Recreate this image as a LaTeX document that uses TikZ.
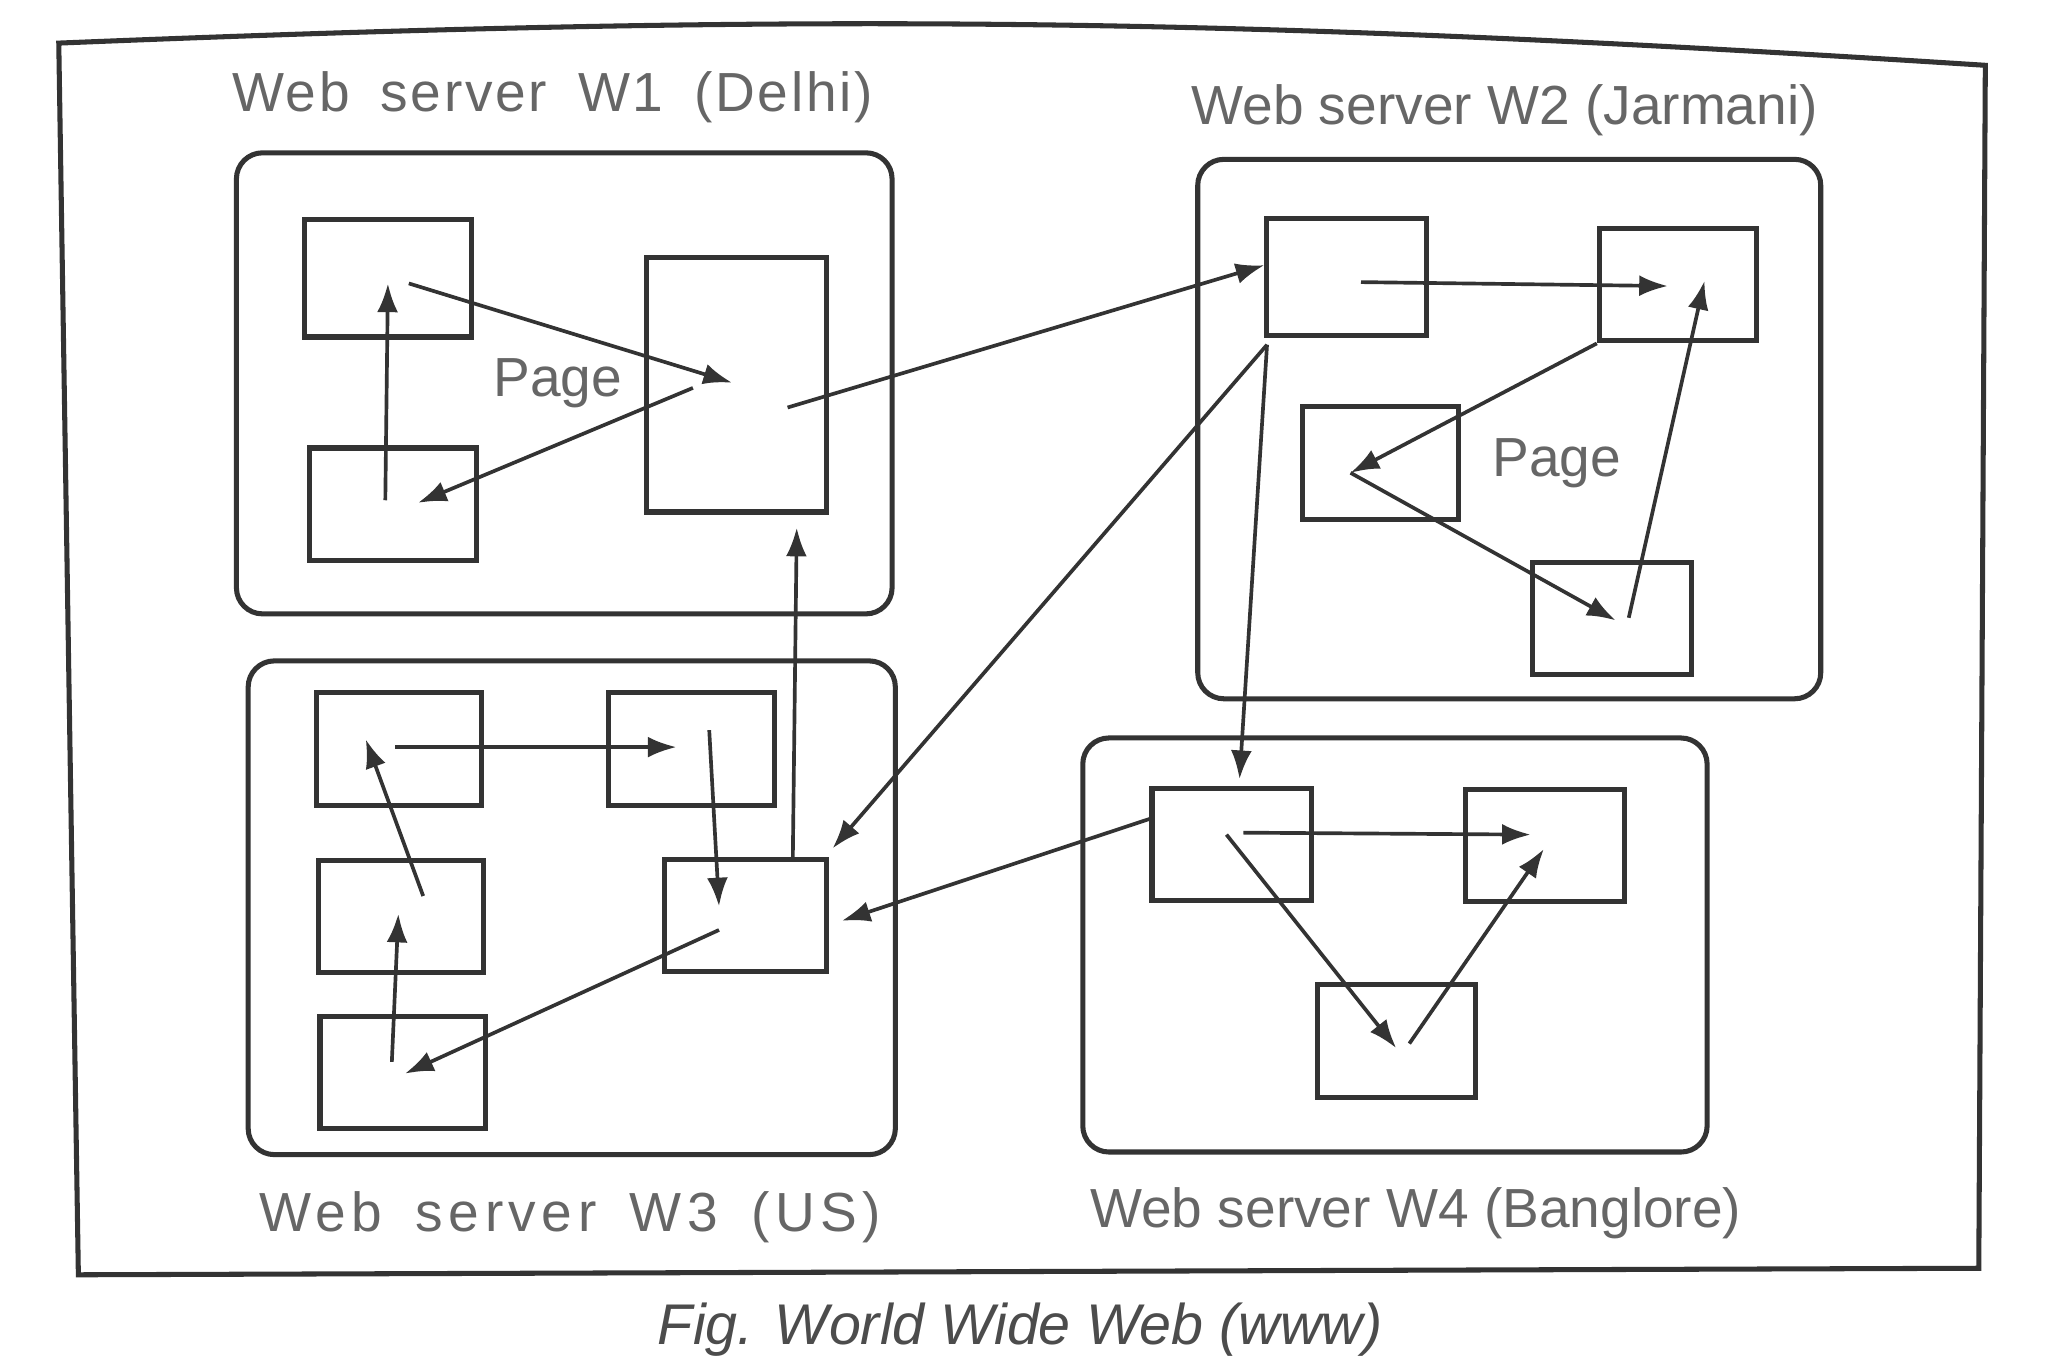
\documentclass[tikz,border=0pt]{standalone}
\usepackage{fontspec}
\setmainfont{Liberation Sans}
\newfontfamily\spacedfont[WordSpace=1.7,LetterSpace=5]{Liberation Sans}
\newfontfamily\widefont[WordSpace=1.6,LetterSpace=10]{Liberation Sans}
\usepackage{tikz}
\usetikzlibrary{arrows.meta}

\begin{document}
\begin{tikzpicture}[
    server/.style={draw=black!80, line width=1.1pt, rounded corners=2mm, inner sep=0pt},
    doc/.style={draw=black!80, line width=1.1pt, inner sep=0pt,
      minimum width=1.24cm, minimum height=0.86cm},
    link/.style={-{Latex[length=2.2mm, width=1.6mm]}, draw=black!80, line width=0.8pt},
    title/.style={text=black!60, anchor=base, font=\fontsize{12}{14}\selectfont},
  ]
  \useasboundingbox (0, 0) rectangle (15.68, 10.47);

  % outer frame
  \draw [black!80, line width=1.1pt] (0.45, 10.14) to[bend left=3] (15.20, 9.97)
    -- (15.15, 0.76) -- (0.60, 0.71) -- cycle;

  % servers
  \node [server, minimum width=5.02cm, minimum height=3.53cm] (w1) at (4.32, 7.535) {};
  \node [server, minimum width=4.77cm, minimum height=4.13cm] (w2) at (11.555, 7.185) {};
  \node [server, minimum width=4.955cm, minimum height=3.78cm] (w3) at (4.3775, 3.52) {};
  \node [server, minimum width=4.78cm, minimum height=3.17cm] (w4) at (10.68, 3.235) {};

  % pages of W1
  \node [doc, minimum width=1.28cm, minimum height=0.9cm] (w1a) at (2.97, 8.34) {};
  \node [doc, minimum width=1.28cm] (w1b) at (3.01, 6.61) {};
  \node [doc, minimum width=1.375cm, minimum height=1.95cm] (w1c) at (5.64, 7.525) {};
  % pages of W2
  \node [doc, minimum width=1.22cm, minimum height=0.9cm] (w2a) at (10.31, 8.35) {};
  \node [doc, minimum width=1.2cm] (w2b) at (12.845, 8.29) {};
  \node [doc, minimum width=1.2cm] (w2c) at (10.57, 6.925) {};
  \node [doc, minimum width=1.22cm] (w2d) at (12.34, 5.735) {};
  % pages of W3
  \node [doc, minimum width=1.27cm] (w3a) at (3.055, 4.735) {};
  \node [doc, minimum width=1.27cm] (w3b) at (5.295, 4.735) {};
  \node [doc, minimum width=1.27cm] (w3c) at (3.07, 3.455) {};
  \node [doc] (w3d) at (5.705, 3.46) {};
  \node [doc, minimum width=1.27cm] (w3e) at (3.085, 2.26) {};
  % pages of W4
  \node [doc, minimum width=1.22cm] (w4a) at (9.43, 4.005) {};
  \node [doc, minimum width=1.22cm] (w4b) at (11.83, 3.995) {};
  \node [doc, minimum width=1.21cm] (w4c) at (10.695, 2.50) {};

  % links inside W1
  \draw [link] ([shift={(-0.06,0.03)}]w1b.center) -- ([shift={(0,-0.04)}]w1a.center);
  \draw [link] ([shift={(0.16,-0.04)}]w1a.center) -- ([shift={(-0.035,0.015)}]w1c.center);
  \draw [link] ([shift={(-0.335,-0.025)}]w1c.center) -- ([shift={(0.19,0.01)}]w1b.center);
  % links inside W2
  \draw [link] ([shift={(0.11,-0.04)}]w2a.center) -- ([shift={(-0.075,-0.01)}]w2b.center);
  \draw [link] (w2b.south west) -- ([shift={(-0.23,-0.075)}]w2c.center);
  \draw [link] ([shift={(-0.23,-0.075)}]w2c.center) -- ([shift={(0.03,-0.015)}]w2d.center);
  \draw [link] ([shift={(0.13,0.005)}]w2d.center) -- ([shift={(0.205,0.03)}]w2b.center);
  % links inside W3
  \draw [link] ([shift={(-0.03,0.015)}]w3a.center) -- ([shift={(-0.115,0.015)}]w3b.center);
  \draw [link] ([shift={(0.135,0.145)}]w3b.center) -- ([shift={(-0.2,0.07)}]w3d.center);
  \draw [link] ([shift={(-0.2,-0.11)}]w3d.center) -- ([shift={(0.015,-0.01)}]w3e.center);
  \draw [link] ([shift={(-0.085,0.08)}]w3e.center) -- ([shift={(-0.02,0.02)}]w3c.center);
  \draw [link] ([shift={(0.17,0.155)}]w3c.center) -- ([shift={(-0.255,0.075)}]w3a.center);
  % links inside W4
  \draw [link] ([shift={(0.09,0.09)}]w4a.center) -- ([shift={(-0.11,0.085)}]w4b.center);
  \draw [link] ([shift={(-0.04,0.075)}]w4a.center) -- ([shift={(-0.005,-0.055)}]w4c.center);
  \draw [link] ([shift={(0.095,-0.02)}]w4c.center) -- ([shift={(-0.01,-0.025)}]w4b.center);

  % links between servers
  \draw [link] ([shift={(0.39,-0.175)}]w1c.center) -- ([shift={(0,0.09)}]w2a.west);
  \draw [link] ([shift={(0.02,-0.05)}]w2a.south west) -- ([shift={(0.06,0.05)}]w4a.north);
  \draw [link] ([shift={(0.02,-0.05)}]w2a.south west) -- ([shift={(0.03,0.065)}]w3d.north east);
  \draw [link] ([shift={(0.365,0)}]w3d.north) -- ([shift={(0.46,-0.1)}]w1c.south);
  \draw [link] ([shift={(0,0.195)}]w4a.west) -- ([shift={(0.1,-0.04)}]w3d.east);

  % texts
  \node [title, font=\spacedfont\fontsize{12}{14}\selectfont] (t1) at (4.23, 9.62)
    {Web server W1 (Delhi)};
  \node [title] (t2) at (11.52, 9.52) {Web server W2 (Jarmani)};
  \node [title, font=\widefont\fontsize{12}{14}\selectfont] (t3) at (4.365, 1.045)
    {Web server W3 (US)};
  \node [title] (t4) at (10.84, 1.07) {Web server W4 (Banglore)};
  \node [title] (p1) at (4.27, 7.435) {Page};
  \node [title] (p2) at (11.92, 6.82) {Page};
  \node [title, text=black!70, font=\fontsize{12.5}{15}\selectfont\itshape] (cap)
    at (7.81, 0.18) {Fig. World Wide Web (www)};

\end{tikzpicture}
\end{document}
